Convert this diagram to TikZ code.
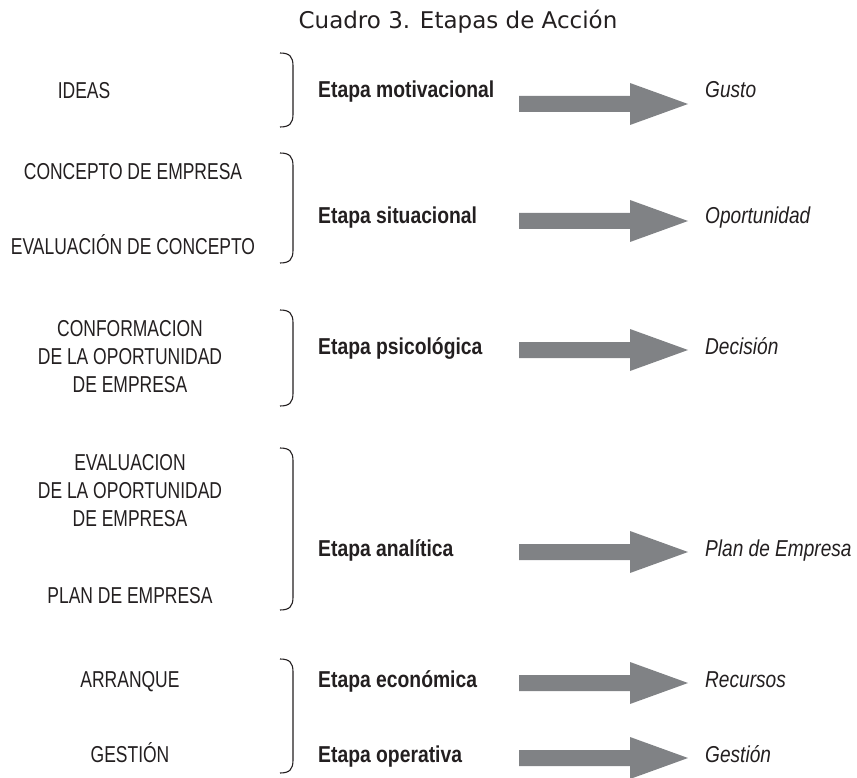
\documentclass[tikz,border=0pt]{standalone}
\usepackage{fontspec}
\setmainfont{Liberation Sans}
\newfontfamily\narreg[FakeStretch=0.76]{Liberation Sans}
\newfontfamily\narbold[FakeStretch=0.84]{Liberation Sans Bold}
\newfontfamily\narit[FakeStretch=0.83]{Liberation Sans Italic}
\newfontfamily\titlefont{DejaVu Sans}
\definecolor{ink}{HTML}{231F20}
\definecolor{arrowgray}{HTML}{808285}
\begin{document}
\begin{tikzpicture}[x=1pt,y=-1pt,
  lefttxt/.style={anchor=mid, inner sep=0pt, text=ink, font=\narreg\fontsize{23}{27}\selectfont},
  stagetxt/.style={anchor=mid west, inner sep=0pt, text=ink, font=\narbold\fontsize{23}{27}\selectfont},
  resulttxt/.style={anchor=mid west, inner sep=0pt, text=ink, font=\narit\fontsize{23}{27}\selectfont},
  bracestyle/.style={draw=ink, line width=1.1pt},
  blockarr/.pic={\fill[arrowgray] (0,-8) -- (111,-8) -- (111,-21) -- (169,0) -- (111,21) -- (111,8) -- (0,8) -- cycle;}
]
\useasboundingbox (0,0) rectangle (857,778);

\node[anchor=mid, inner sep=0pt, text=ink, font=\titlefont\fontsize{23}{27}\selectfont] (title) at (458,26) {Cuadro 3. Etapas de Acción};

% braces
\def\brace#1#2{\draw[bracestyle] (280,#1) .. controls (290,#1) and (293,#1+4) .. (293,#1+13) -- (293,#2-13) .. controls (293,#2-4) and (290,#2) .. (280,#2);}
\brace{53}{127}
\brace{153}{263}
\brace{310}{406}
\brace{448}{610}
\brace{659}{773}

% row 1
\node[lefttxt] (ideas) at (84,96) {IDEAS};
\node[stagetxt] (s1) at (318,95) {Etapa motivacional};
\pic at (519,104) {blockarr};
\node[resulttxt] (r1) at (705,95) {Gusto};

% row 2
\node[lefttxt] (concepto) at (133,177) {CONCEPTO DE EMPRESA};
\node[lefttxt] (evalc) at (133,252) {EVALUACIÓN DE CONCEPTO};
\node[stagetxt] (s2) at (318,221) {Etapa situacional};
\pic at (519,221) {blockarr};
\node[resulttxt] (r2) at (705,221) {Oportunidad};

% row 3
\node[lefttxt] (conf1) at (130,334) {CONFORMACION};
\node[lefttxt] (conf2) at (130,362) {DE LA OPORTUNIDAD};
\node[lefttxt] (conf3) at (130,390) {DE EMPRESA};
\node[stagetxt] (s3) at (318,352) {Etapa psicológica};
\pic at (519,350) {blockarr};
\node[resulttxt] (r3) at (705,352) {Decisión};

% row 4
\node[lefttxt] (ev1) at (130,468) {EVALUACION};
\node[lefttxt] (ev2) at (130,496) {DE LA OPORTUNIDAD};
\node[lefttxt] (ev3) at (130,524) {DE EMPRESA};
\node[lefttxt] (plan) at (130,601) {PLAN DE EMPRESA};
\node[stagetxt] (s4) at (318,554) {Etapa analítica};
\pic at (519,552) {blockarr};
\node[resulttxt] (r4) at (705,554) {Plan de Empresa};

% row 5
\node[lefttxt] (arr) at (130,685) {ARRANQUE};
\node[lefttxt] (gest) at (130,760) {GESTIÓN};
\node[stagetxt] (s5) at (318,685) {Etapa económica};
\pic at (519,683) {blockarr};
\node[resulttxt] (r5) at (705,685) {Recursos};
\node[stagetxt] (s6) at (318,760) {Etapa operativa};
\pic at (519,758) {blockarr};
\node[resulttxt] (r6) at (705,760) {Gestión};
\end{tikzpicture}
\end{document}
